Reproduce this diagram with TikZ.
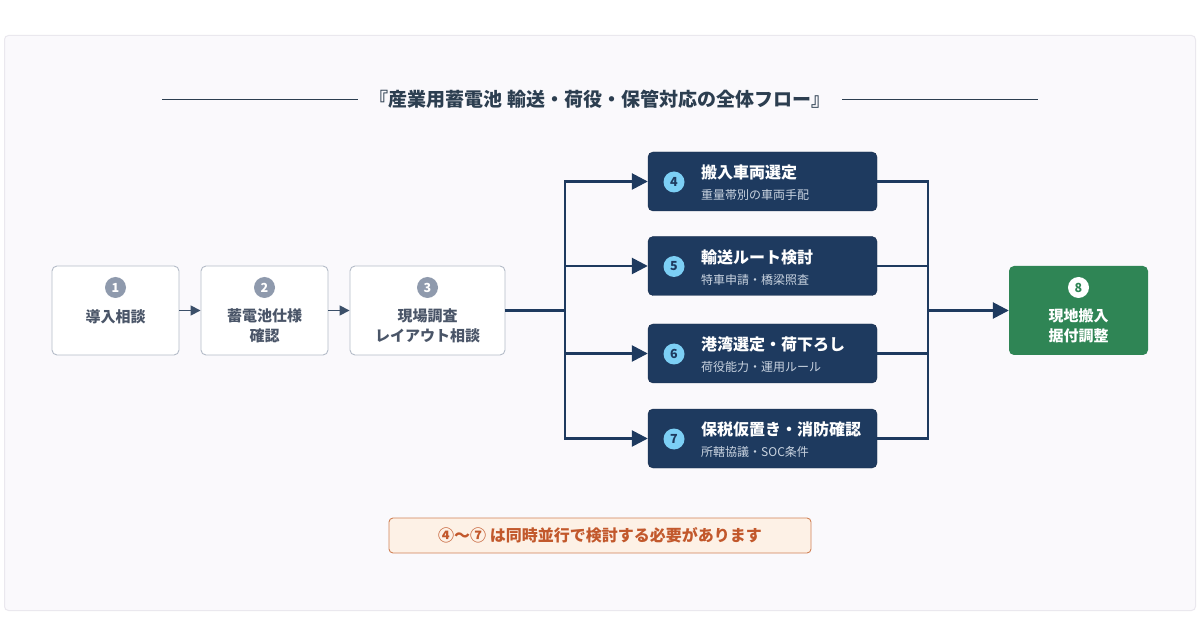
\documentclass[tikz,border=0pt]{standalone}
\usepackage{fontspec}
\setmainfont{Noto Sans CJK JP}
\usetikzlibrary{arrows.meta}
\definecolor{navy}{HTML}{1E3A5F}
\definecolor{titlec}{HTML}{2C3E50}
\definecolor{grayb}{HTML}{B4BCC8}
\definecolor{grayc}{HTML}{8F9AAD}
\definecolor{grayt}{HTML}{4A5568}
\definecolor{lblue}{HTML}{7CCFF5}
\definecolor{subt}{HTML}{C9D3E0}
\definecolor{greenb}{HTML}{2F8555}
\definecolor{notefill}{HTML}{FDF1E6}
\definecolor{noteline}{HTML}{D08257}
\definecolor{notetext}{HTML}{C2582C}
\definecolor{panel}{HTML}{FAF9FC}
\definecolor{panelline}{HTML}{EAE8EE}
\tikzset{
  prebox/.style={draw=grayb, line width=0.9pt, fill=white, rounded corners=5pt, minimum height=89pt},
  stepnum/.style={circle, fill=grayc, text=white, font=\fontsize{12.5}{12}\selectfont\bfseries, minimum size=21pt, inner sep=0pt},
  pretext/.style={text=grayt, font=\fontsize{15}{20}\selectfont\bfseries, align=center},
  parbox/.style={fill=navy, draw=navy!80!black, rounded corners=5pt, minimum width=229pt, minimum height=59pt},
  parnum/.style={circle, fill=lblue, text=navy, font=\fontsize{12.5}{12}\selectfont\bfseries, minimum size=21pt, inner sep=0pt},
  partitle/.style={text=white, font=\fontsize{16}{18}\selectfont\bfseries, anchor=west, inner sep=0pt},
  parsub/.style={text=subt, font=\fontsize{12}{14}\selectfont, anchor=west, inner sep=0pt},
  mainline/.style={draw=navy, line width=2.6pt},
  bigarrow/.style={mainline, -{Triangle[length=16pt,width=16pt]}},
  smallarrow/.style={draw=navy!70!gray, line width=1.6pt, -{Triangle[length=10pt,width=10pt]}},
}
\begin{document}
\begin{tikzpicture}[x=1pt,y=-1pt]
\useasboundingbox (0,0) rectangle (1200,636);
\fill[white] (0,0) rectangle (1200,636);
\draw[panelline, fill=panel, line width=1pt, rounded corners=4pt] (4.5,35.5) rectangle (1195.5,610.5);

% title
\node[text=titlec, font=\fontsize{19}{22}\selectfont\bfseries, inner sep=0pt] (title) at (600,99) {『産業用蓄電池 輸送・荷役・保管対応の全体フロー』};
\coordinate (tl) at (162,99);
\coordinate (tr) at (1038,99);
\draw[titlec, line width=0.8pt] (tl) -- ([xshift=-12pt]title.west);
\draw[titlec, line width=0.8pt] ([xshift=12pt]title.east) -- (tr);

% pre boxes
\node[prebox, minimum width=127pt] (b1) at (115.5,310.5) {};
\node[prebox, minimum width=127pt] (b2) at (264.5,310.5) {};
\node[prebox, minimum width=155pt] (b3) at (427.5,310.5) {};
\node[stepnum] (n1) at (115.5,287.5) {1};
\node[stepnum] (n2) at (264.5,287.5) {2};
\node[stepnum] (n3) at (427.5,287.5) {3};
\node[pretext] (t1) at (115.5,317) {導入相談};
\node[pretext] (t2) at (264.5,326) {蓄電池仕様\\確認};
\node[pretext] (t3) at (427.5,326) {現場調査\\レイアウト相談};

\draw[smallarrow] (b1.east) -- (b2.west);
\draw[smallarrow] (b2.east) -- (b3.west);

% parallel boxes
\node[parbox] (b4) at (762.5,181.5) {};
\node[parbox] (b5) at (762.5,266) {};
\node[parbox] (b6) at (762.5,353.5) {};
\node[parbox] (b7) at (762.5,438.5) {};
\node[parnum] (n4) at (674,182) {4};
\node[parnum] (n5) at (674,266.5) {5};
\node[parnum] (n6) at (674,354) {6};
\node[parnum] (n7) at (674,439) {7};
\node[partitle] (h4) at (701,172.5) {搬入車両選定};
\node[partitle] (h5) at (701,257) {輸送ルート検討};
\node[partitle] (h6) at (701,344.5) {港湾選定・荷下ろし};
\node[partitle] (h7) at (701,429.5) {保税仮置き・消防確認};
\node[parsub] (s4) at (701,195) {重量帯別の車両手配};
\node[parsub] (s5) at (701,279.5) {特車申請・橋梁照査};
\node[parsub] (s6) at (701,367) {荷役能力・運用ルール};
\node[parsub] (s7) at (701,452) {所轄協議・SOC条件};

% final box
\node[fill=greenb, rounded corners=5pt, minimum width=139pt, minimum height=89pt] (b8) at (1078.5,310.5) {};
\node[circle, fill=white, text=greenb, font=\fontsize{12.5}{12}\selectfont\bfseries, minimum size=21pt, inner sep=0pt] (n8) at (1078.5,287.5) {8};
\node[text=white, font=\fontsize{15}{20}\selectfont\bfseries, align=center] (t8) at (1078.5,326) {現地搬入\\据付調整};

% connectors
\coordinate (jl) at (565,310.5);
\coordinate (jr) at (928,310.5);
\draw[mainline] (b3.east) -- (jl);
\draw[mainline, line cap=rect] (jl |- b4.west) -- (jl |- b7.west);
\draw[bigarrow] (jl) |- (b4.west);
\draw[bigarrow] (jl) |- (b5.west);
\draw[bigarrow] (jl) |- (b6.west);
\draw[bigarrow] (jl) |- (b7.west);
\draw[mainline] (b4.east) -| (jr);
\draw[mainline] (b5.east) -| (jr);
\draw[mainline] (b6.east) -| (jr);
\draw[mainline] (b7.east) -| (jr);
\draw[bigarrow] (jr) -- (b8.west);

% note
\node[draw=noteline, line width=0.9pt, fill=notefill, rounded corners=4pt, minimum width=422pt, minimum height=35pt, text=notetext, font=\fontsize{16}{18}\selectfont\bfseries] (note) at (600,535.5) {④〜⑦ は同時並行で検討する必要があります};
\end{tikzpicture}
\end{document}
